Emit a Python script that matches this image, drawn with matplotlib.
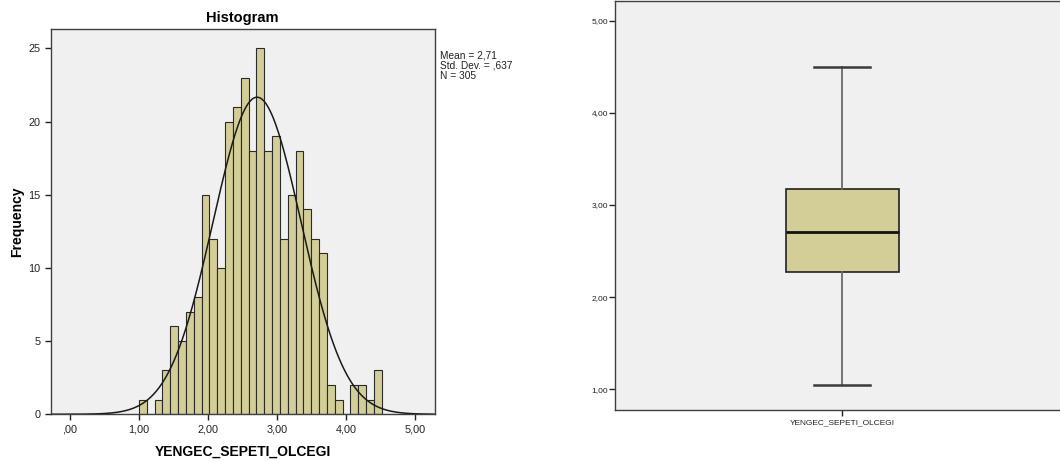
import numpy as np
import matplotlib
matplotlib.use("Agg")
import matplotlib.pyplot as plt

plt.rcParams['font.family'] = ['Liberation Sans', 'DejaVu Sans']

# ---- data ----
variable_name = "YENGEC_SEPETI_OLCEGI"
bin_start = 1.0
bin_width = 0.1134
counts = [1, 0, 1, 3, 6, 5, 7, 8, 15, 12, 10, 20, 21, 23, 18, 25, 18, 19,
          12, 15, 18, 14, 12, 11, 2, 1, 0, 2, 2, 1, 3]
mean_val = 2.71
sd_val = 0.637
n_val = 305
x_ticks = [0, 1, 2, 3, 4, 5]
x_tick_labels = [",00", "1,00", "2,00", "3,00", "4,00", "5,00"]
y_ticks = [0, 5, 10, 15, 20, 25]
box_ticks = [1, 2, 3, 4, 5]
box_tick_labels = ["1,00", "2,00", "3,00", "4,00", "5,00"]
box_stats = dict(whislo=1.047, q1=2.272, med=2.706, q3=3.176, whishi=4.50)

face = '#d3ce98'
bg = '#f0f0f0'
spine_c = '#404040'

W, H = 1060, 462
fig = plt.figure(figsize=(W / 100, H / 100), dpi=100)

def rect(l, t, r, b):
    return [l / W, 1 - b / H, (r - l) / W, (b - t) / H]

# ---- Histogram ----
ax = fig.add_axes(rect(50.7, 29.3, 434.7, 414.3))
ax.set_facecolor(bg)
edges = bin_start + bin_width * np.arange(len(counts) + 1)
ax.bar(edges[:-1], counts, width=bin_width, align='edge', color=face,
       edgecolor='#2a2a2a', linewidth=0.8, zorder=2)
xs = np.linspace(-0.27, 5.27, 400)
pdf = n_val * bin_width / (sd_val * np.sqrt(2 * np.pi)) * np.exp(-0.5 * ((xs - mean_val) / sd_val) ** 2)
ax.plot(xs, pdf, color='#1a1a1a', linewidth=1.1, zorder=3)
ax.set_xlim(-0.275, 5.28)
ax.set_ylim(0, 26.3)
ax.set_xticks(x_ticks)
ax.set_xticklabels(x_tick_labels)
ax.set_yticks(y_ticks)
ax.tick_params(axis='both', labelsize=7.8, colors='#222222', length=4, width=1, direction='out')
ax.tick_params(axis='x', pad=3)
for s in ax.spines.values():
    s.set_color(spine_c)
    s.set_linewidth(1)
ax.set_title("Histogram", fontsize=10.5, fontweight='bold', pad=5)
ax.set_xlabel(variable_name, fontsize=10, fontweight='bold', labelpad=8)
ax.set_ylabel("Frequency", fontsize=10, fontweight='bold', labelpad=3)
fig.text(440.5 / W, 1 - 51 / H,
         f"Mean = {mean_val:.2f}".replace('.', ',') + "\n" +
         f"Std. Dev. = {sd_val:.3f}".replace('0.', ',') + "\n" +
         f"N = {n_val}",
         fontsize=7.3, va='top', ha='left', linespacing=1.0, color='#222222')

# ---- Box plot ----
bx = fig.add_axes(rect(615.3, 0.7, 1069.3, 409.7))
bx.set_facecolor(bg)
st = dict(box_stats)
st['fliers'] = []
bx.bxp([st], positions=[1], widths=0.249, capwidths=0.123, showfliers=False,
       patch_artist=True,
       boxprops=dict(facecolor=face, edgecolor='#222222', linewidth=1.2),
       medianprops=dict(color='#111111', linewidth=2),
       whiskerprops=dict(color='#6a6a6a', linewidth=1.3),
       capprops=dict(color='#3a3a3a', linewidth=1.8))
bx.set_xlim(0.5, 1.5)
bx.set_ylim(0.779, 5.215)
bx.set_xticks([1])
bx.set_xticklabels([variable_name])
bx.set_yticks(box_ticks)
bx.set_yticklabels(box_tick_labels)
bx.tick_params(axis='both', labelsize=6, colors='#222222', length=4, width=1, direction='out', pad=1)
bx.tick_params(axis='x', pad=3)
for s in bx.spines.values():
    s.set_color(spine_c)
    s.set_linewidth(1)

fig.savefig("out.png", dpi=100)
